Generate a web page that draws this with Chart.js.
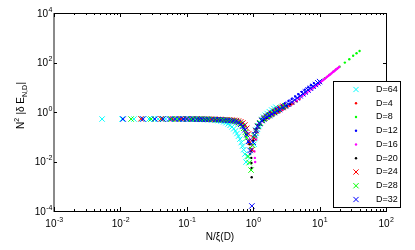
<!DOCTYPE html>
<html>
<head>
<meta charset="utf-8">
<script src="https://cdn.jsdelivr.net/npm/chart.js@4.4.1/dist/chart.umd.min.js"></script>
<style>
  html, body { margin: 0; padding: 0; background: #fff; }
  #wrap { position: relative; width: 415px; height: 250px; }
</style>
</head>
<body>
<div id="wrap"><canvas id="chart" width="415" height="250"></canvas></div>
<script>
// points are [N/xi(D), N^2 |dE|]
const d64 = [[0.0053,0.52],[0.0106,0.52],[0.016,0.52],[0.021,0.52],[0.027,0.52],[0.032,0.52],[0.037,0.52],[0.042,0.52],[0.048,0.52],[0.058,0.52],[0.069,0.52],[0.08,0.52],[0.09,0.52],[0.1,0.52],[0.116,0.51],[0.132,0.51],[0.148,0.51],[0.17,0.5],[0.19,0.5],[0.21,0.49],[0.24,0.48],[0.27,0.47],[0.3,0.45],[0.33,0.43],[0.36,0.4],[0.39,0.37],[0.42,0.33],[0.45,0.29],[0.48,0.25],[0.51,0.21],[0.54,0.17],[0.57,0.135],[0.6,0.105],[0.63,0.08],[0.66,0.058],[0.69,0.042],[0.72,0.03],[0.75,0.02],[0.78,0.0095],[0.81,0.016],[1.03,0.05],[1.07,0.09],[1.11,0.14],[1.16,0.2],[1.22,0.28],[1.28,0.36],[1.35,0.5],[1.43,0.62],[1.52,0.74],[1.62,0.87],[1.75,1.03],[1.9,1.2],[2.05,1.38],[2.2,1.56]]
const d4 = [[0.25,0.51],[0.5,0.43],[0.75,0.18],[1.0,0.07],[1.25,0.32],[1.5,0.47],[1.75,0.6],[2.0,0.74],[2.25,0.88],[2.5,1.02],[2.75,1.2],[3.0,1.38],[3.25,1.57],[3.5,1.78],[3.75,2.0],[4.0,2.22],[4.5,2.75],[5.0,3.4]]
const d8 = [[0.12,0.52],[0.24,0.51],[0.36,0.49],[0.48,0.45],[0.6,0.37],[0.7,0.26],[0.78,0.1],[0.84,0.06],[0.9,0.035],[1.0,0.07],[1.12,0.17],[1.25,0.3],[1.5,0.46],[1.75,0.62],[2.0,0.76],[2.5,1.1],[3.0,1.45],[4.0,2.45],[5.0,3.65],[6.0,5.3],[8.0,9.3],[10,15.2],[12,23],[14,31.5],[16,42],[18,54],[20,68],[24,99],[28,135],[32,188],[36,238],[40,290]]
const d12 = [[0.06,0.52],[0.09,0.52],[0.12,0.52],[0.15,0.52],[0.18,0.51],[0.21,0.51],[0.24,0.5],[0.27,0.5],[0.3,0.49],[0.36,0.48],[0.42,0.46],[0.48,0.44],[0.54,0.41],[0.6,0.37],[0.66,0.3],[0.72,0.22],[0.78,0.13],[0.84,0.06],[0.9,0.02],[0.96,0.03],[1.02,0.09],[1.08,0.16],[1.14,0.23],[1.2,0.31],[1.32,0.52],[1.44,0.64],[1.56,0.77],[1.68,0.88],[1.8,1.0],[2.0,1.17],[2.2,1.36],[2.4,1.56],[2.7,1.9],[3.0,2.27],[3.4,2.78],[3.8,3.35],[4.3,4.2],[4.8,5.2],[5.4,6.5],[6.0,8.0],[6.7,9.9],[7.4,12.0],[8.2,14.7]]
const d16 = [[0.08,0.52],[0.16,0.52],[0.24,0.51],[0.32,0.5],[0.4,0.48],[0.48,0.45],[0.56,0.41],[0.64,0.35],[0.72,0.26],[0.8,0.15],[0.88,0.08],[0.96,0.045],[1.04,0.026],[1.06,0.014],[1.07,0.0095],[1.1,0.08],[1.15,0.16],[1.2,0.24],[1.3,0.33],[1.4,0.42],[1.6,0.55],[1.8,0.68],[2.0,0.8],[2.4,0.98],[2.8,1.27],[3.2,1.57],[3.6,1.95],[4.0,2.4],[4.5,2.95],[5.0,3.6],[5.5,4.4],[6.0,5.2],[6.5,6.1],[7.0,7.1],[7.5,8.2],[8.0,9.3],[8.5,10.5],[9.0,11.8],[9.5,13.2],[10,14.8],[10.5,16.5],[11,18.3],[11.5,20.2],[12,22.2],[12.5,24.3],[13,26.5],[13.5,28.8],[14,31.2],[14.5,33.7],[15,36.3],[15.5,39],[16,41.8],[16.5,44.7],[17,47.7],[17.5,50.8],[18,54],[18.5,57.3],[19,60.7],[19.7,66]]
const d20 = [[0.1,0.52],[0.2,0.51],[0.3,0.49],[0.4,0.47],[0.5,0.44],[0.6,0.38],[0.7,0.27],[0.8,0.13],[0.88,0.05],[0.93,0.026],[0.935,0.014],[0.94,0.0087],[0.945,0.0055],[0.95,0.0023],[1.0,0.07],[1.1,0.2],[1.2,0.3],[1.4,0.45],[1.6,0.58],[1.8,0.7],[2.1,0.88],[2.4,1.1],[2.8,1.42],[3.2,1.78],[3.6,2.12]]
const d24 = [[0.0204,0.53],[0.041,0.53],[0.061,0.53],[0.082,0.53],[0.102,0.53],[0.122,0.53],[0.143,0.52],[0.163,0.52],[0.184,0.52],[0.204,0.52],[0.23,0.51],[0.26,0.51],[0.29,0.5],[0.32,0.5],[0.36,0.49],[0.4,0.49],[0.44,0.48],[0.48,0.47],[0.52,0.46],[0.56,0.45],[0.6,0.43],[0.65,0.4],[0.7,0.36],[0.75,0.3],[0.8,0.22],[0.85,0.13],[0.9,0.06],[0.96,0.03],[1.02,0.09],[1.09,0.17],[1.17,0.26],[1.26,0.36],[1.36,0.46],[1.48,0.56],[1.6,0.66],[1.75,0.78],[1.9,0.9],[2.1,1.07],[2.3,1.25],[2.55,1.48],[2.8,1.72]]
const d28 = [[0.0145,0.52],[0.029,0.52],[0.0435,0.52],[0.058,0.52],[0.072,0.52],[0.087,0.52],[0.101,0.52],[0.116,0.52],[0.13,0.52],[0.145,0.52],[0.16,0.51],[0.18,0.51],[0.2,0.51],[0.22,0.5],[0.25,0.5],[0.28,0.49],[0.31,0.49],[0.35,0.48],[0.39,0.47],[0.43,0.46],[0.48,0.44],[0.53,0.42],[0.58,0.39],[0.63,0.34],[0.68,0.28],[0.72,0.22],[0.76,0.15],[0.8,0.09],[0.84,0.016],[0.87,0.009],[0.93,0.0045],[0.98,0.045],[1.04,0.11],[1.1,0.18],[1.18,0.27],[1.27,0.36],[1.37,0.46],[1.5,0.56],[1.65,0.67],[1.8,0.78],[2.0,0.93],[2.2,1.08],[2.45,1.3],[2.7,1.52],[3.0,1.78]]
const d32 = [[0.011,0.52],[0.022,0.52],[0.033,0.52],[0.044,0.52],[0.055,0.52],[0.066,0.52],[0.077,0.52],[0.088,0.52],[0.099,0.52],[0.11,0.52],[0.125,0.52],[0.14,0.51],[0.155,0.51],[0.17,0.51],[0.19,0.5],[0.21,0.5],[0.24,0.5],[0.27,0.49],[0.3,0.49],[0.33,0.48],[0.37,0.47],[0.41,0.46],[0.45,0.45],[0.5,0.43],[0.55,0.41],[0.6,0.37],[0.65,0.32],[0.7,0.26],[0.75,0.19],[0.8,0.12],[0.85,0.065],[0.9,0.028],[0.955,0.00016],[1.0,0.06],[1.05,0.12],[1.1,0.18],[1.17,0.26],[1.25,0.34],[1.35,0.45],[1.45,0.52],[1.6,0.61],[1.75,0.71],[1.9,0.81],[2.1,0.95],[2.3,1.1],[2.5,1.26],[2.8,1.52],[3.1,1.8],[3.4,2.08],[3.8,2.53],[4.2,3.08],[4.6,3.68],[5.1,4.5],[5.6,5.4],[6.1,6.4],[6.7,7.7],[7.3,9.1],[8.0,10.9],[8.7,12.9],[9.4,15.1],[10.0,17.0]]

const seriesNames = ['D=64', 'D=4', 'D=8', 'D=12', 'D=16', 'D=20', 'D=24', 'D=28', 'D=32']
const seriesColors = ['#00ffff', '#ff0000', '#00ff00', '#0000ff', '#ff00ff', '#000000', '#ff0000', '#00ff00', '#0000ff']
const seriesMarks = ['x', 'dot', 'dot', 'dot', 'dot', 'dot', 'x', 'x', 'x']
const seriesData = [d64, d4, d8, d12, d16, d20, d24, d28, d32]

const xDecades = [-3, -2, -1, 0, 1, 2]
const yDecades = [-4, -2, 0, 2, 4]

const FONT = '"Liberation Sans", Arial, Helvetica, sans-serif'

function powLabel(ctx, exp, x, y, align) {
    ctx.font = '10px ' + FONT
    const wb = ctx.measureText('10').width
    ctx.font = '7px ' + FONT
    const we = ctx.measureText(String(exp)).width
    const left = align === 'center' ? x - (wb + we) / 2 : x - wb - we
    ctx.textAlign = 'left'
    ctx.textBaseline = 'alphabetic'
    ctx.font = '10px ' + FONT
    ctx.fillText('10', left, y)
    ctx.font = '7px ' + FONT
    ctx.fillText(String(exp), left + wb + 0.5, y - 5)
}

function drawMark(ctx, mark, color, x, y) {
    ctx.strokeStyle = color
    ctx.fillStyle = color
    if (mark === 'x') {
        const r = 2.6
        ctx.lineWidth = 1
        ctx.beginPath()
        ctx.moveTo(x - r, y - r); ctx.lineTo(x + r, y + r)
        ctx.moveTo(x - r, y + r); ctx.lineTo(x + r, y - r)
        ctx.stroke()
    } else {
        ctx.beginPath()
        ctx.arc(x, y, 1.2, 0, Math.PI * 2)
        ctx.fill()
    }
}

const frame = {
    id: 'frame',
    afterDraw(chart) {
        const { ctx, chartArea: a, scales: { x, y } } = chart
        ctx.save()

        // box: grey left spine, black others
        ctx.fillStyle = '#8a8a8a'
        ctx.fillRect(a.left - 1, a.top, 2, a.bottom - a.top + 1)
        ctx.strokeStyle = '#000'
        ctx.lineWidth = 1
        ctx.beginPath()
        ctx.moveTo(a.left, a.bottom + 0.5); ctx.lineTo(a.right + 0.5, a.bottom + 0.5)
        ctx.moveTo(a.left, a.top + 0.5); ctx.lineTo(a.right + 0.5, a.top + 0.5)
        ctx.moveTo(a.right + 0.5, a.top); ctx.lineTo(a.right + 0.5, a.bottom + 1)
        ctx.stroke()

        // x ticks, major + minor, bottom and top
        ctx.beginPath()
        xDecades.forEach(d => {
            for (let m = 1; m <= 9; m++) {
                if (d === 2 && m > 1) break
                const px = Math.round(x.getPixelForValue(m * Math.pow(10, d))) + 0.5
                const len = m === 1 ? 4 : 2
                ctx.moveTo(px, a.bottom); ctx.lineTo(px, a.bottom - len)
                ctx.moveTo(px, a.top); ctx.lineTo(px, a.top + len)
            }
        })
        yDecades.forEach(d => {
            const py = Math.round(y.getPixelForValue(Math.pow(10, d))) + 0.5
            ctx.moveTo(a.left, py); ctx.lineTo(a.left + 3, py)
            ctx.moveTo(a.right, py); ctx.lineTo(a.right - 3, py)
        })
        ctx.stroke()

        // tick labels
        ctx.fillStyle = '#000'
        xDecades.forEach(d => powLabel(ctx, d, x.getPixelForValue(Math.pow(10, d)), a.bottom + 16, 'center'))
        yDecades.forEach(d => powLabel(ctx, d, a.left - 2, y.getPixelForValue(Math.pow(10, d)) + 3.5, 'right'))

        // axis titles
        ctx.font = '10px ' + FONT
        ctx.textAlign = 'center'
        ctx.textBaseline = 'alphabetic'
        ctx.fillText('N/\u03be(D)', (a.left + a.right) / 2, 240)

        ctx.save()
        ctx.translate(24, 129)
        ctx.rotate(-Math.PI / 2)
        ctx.textAlign = 'left'
        let cx = 0
        const parts = [['N', 10, 0], ['2', 7, -5], [' |\u03b4 E', 10, 0], ['N,D', 7, 3], ['|', 10, 0]]
        parts.forEach(([t, size, dy]) => {
            ctx.font = size + 'px ' + FONT
            ctx.fillText(t, cx, dy)
            cx += ctx.measureText(t).width + (size === 7 ? 0.5 : 0)
        })
        ctx.restore()

        // legend box
        const lx = 333, ly = 81, lw = 68, lh = 127
        ctx.fillStyle = '#fff'
        ctx.fillRect(lx, ly, lw, lh)
        ctx.strokeStyle = '#000'
        ctx.lineWidth = 1
        ctx.strokeRect(lx + 0.5, ly + 0.5, lw - 1, lh - 1)
        seriesNames.forEach((name, i) => {
            const cy = 89.5 + i * 13.75
            drawMark(ctx, seriesMarks[i], seriesColors[i], 356, cy)
            ctx.fillStyle = '#000'
            ctx.font = '9px ' + FONT
            ctx.textAlign = 'left'
            ctx.textBaseline = 'middle'
            ctx.fillText(name, 376, cy)
        })

        ctx.restore()
    }
}

const datasets = seriesData.map((pts, i) => {
    const isX = seriesMarks[i] === 'x'
    return {
        label: seriesNames[i],
        data: pts.map(p => ({ x: p[0], y: p[1] })),
        order: seriesData.length - i,
        showLine: false,
        pointStyle: isX ? 'crossRot' : 'circle',
        pointRadius: isX ? 3.8 : 1.2,
        pointBorderWidth: isX ? 1 : 0,
        pointBorderColor: seriesColors[i],
        pointBackgroundColor: seriesColors[i],
        pointHoverRadius: isX ? 3.8 : 1.2
    }
})

new Chart(document.getElementById('chart'), {
    type: 'scatter',
    data: { datasets },
    options: {
        responsive: false,
        animation: false,
        devicePixelRatio: 1,
        layout: { padding: { left: 0, top: 13, right: 29, bottom: 0 } },
        plugins: { legend: { display: false }, tooltip: { enabled: false } },
        events: [],
        scales: {
            x: {
                type: 'logarithmic', min: 1e-3, max: 1e2,
                ticks: { display: false }, grid: { display: false }, border: { display: false },
                afterFit(s) { s.height = 39 }
            },
            y: {
                type: 'logarithmic', min: 1e-4, max: 1e4,
                ticks: { display: false }, grid: { display: false }, border: { display: false },
                afterFit(s) { s.width = 54 }
            }
        }
    },
    plugins: [frame]
})
</script>
</body>
</html>
